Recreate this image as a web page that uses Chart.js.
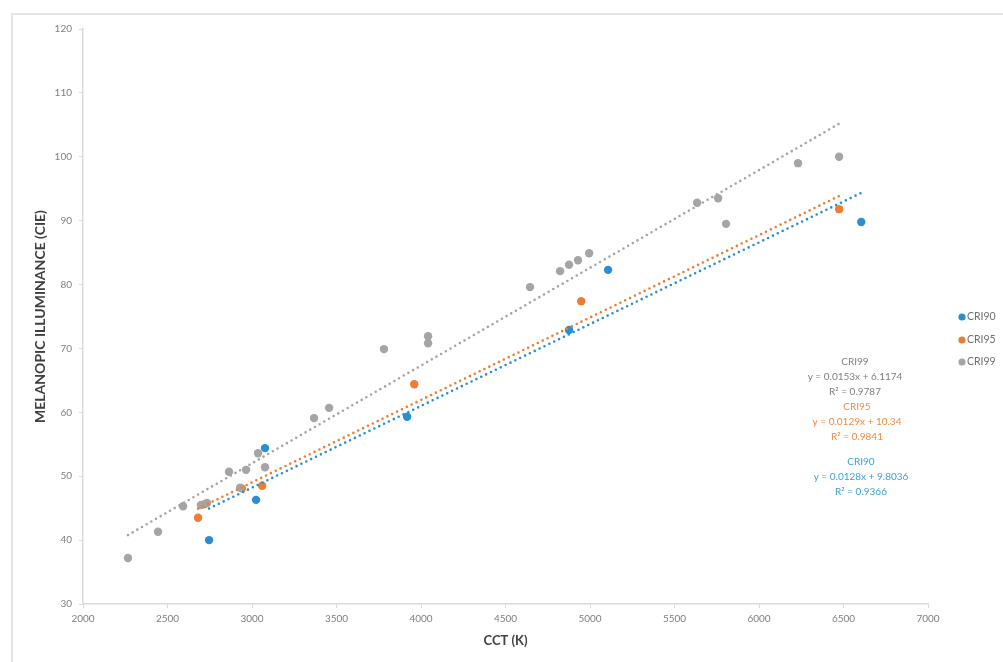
<!DOCTYPE html>
<html>
<head>
<meta charset="utf-8">
<script src="https://cdn.jsdelivr.net/npm/chart.js@4.4.1/dist/chart.umd.min.js"></script>
<style>
  html, body { margin: 0; padding: 0; background: #fff; }
  #wrap { width: 1003px; height: 662px; position: relative; }
</style>
</head>
<body>
<div id="wrap"><canvas id="myChart" width="1003" height="662"></canvas></div>
<script>
var seriesNames = ['CRI90', 'CRI95', 'CRI99'];
var pointColors = ['#2a8fd2', '#ed7d31', '#a5a5a5'];
var textColors = ['#3d9fd6', '#ef8a45', '#7f7f7f'];

// CCT (K) vs melanopic illuminance
var cri90X = [2746, 3024, 3077, 3918, 4876, 5107, 6605];
var cri90Y = [40.0, 46.3, 54.4, 59.3, 72.9, 82.3, 89.8];

var cri95X = [2681, 2716, 2940, 3060, 3960, 4948, 6474];
var cri95Y = [43.5, 45.6, 48.1, 48.5, 64.4, 77.4, 91.8];

var cri99X = [2266, 2444, 2592, 2698, 2734, 2864, 2930, 2965, 3036, 3077, 3367, 3456, 3781,
              4042, 4042, 4645, 4823, 4876, 4929, 4995, 5634, 5758, 5805, 6231, 6474];
var cri99Y = [37.2, 41.3, 45.3, 45.5, 45.8, 50.7, 48.2, 51.0, 53.6, 51.4, 59.1, 60.7, 69.9,
              71.9, 70.8, 79.6, 82.1, 83.1, 83.8, 84.9, 92.8, 93.5, 89.5, 99.0, 100.0];

// trendline equations as printed on the chart
var slopes = [0.0128, 0.0129, 0.0153];
var intercepts = [9.8036, 10.34, 6.1174];
var rSquared = ['0.9366', '0.9841', '0.9787'];

var xMin = 2000, xMax = 7000, xStep = 500;
var yMin = 30, yMax = 120, yStep = 10;

var allX = [cri90X, cri95X, cri99X];
var allY = [cri90Y, cri95Y, cri99Y];

function points(xs, ys) {
  return xs.map(function (x, i) { return { x: x, y: ys[i] }; });
}

function trend(i) {
  var lo = Math.min.apply(null, allX[i]);
  var hi = Math.max.apply(null, allX[i]);
  return [
    { x: lo, y: slopes[i] * lo + intercepts[i] },
    { x: hi, y: slopes[i] * hi + intercepts[i] }
  ];
}

var datasets = [];
// trendlines drawn on top
[2, 1, 0].forEach(function (i) {
  datasets.push({
    label: seriesNames[i] + ' trend',
    data: trend(i),
    showLine: true,
    borderColor: pointColors[i],
    borderWidth: 2.6,
    borderDash: [0, 5.4],
    borderCapStyle: 'round',
    pointRadius: 0,
    fill: false
  });
});
[2, 1, 0].forEach(function (i) {
  datasets.push({
    label: seriesNames[i],
    data: points(allX[i], allY[i]),
    backgroundColor: pointColors[i],
    borderWidth: 0,
    pointRadius: 4.2,
    pointHoverRadius: 4.2
  });
});

var frameAndNotes = {
  id: 'frameAndNotes',
  beforeDraw: function (chart) {
    var ctx = chart.ctx;
    ctx.save();
    ctx.fillStyle = '#fff';
    ctx.fillRect(0, 0, chart.width, chart.height);
    ctx.strokeStyle = '#e4e4e4';
    ctx.lineWidth = 2;
    ctx.strokeRect(12, 14, chart.width + 20, chart.height + 20);
    ctx.restore();
  },
  afterDraw: function (chart) {
    var ctx = chart.ctx;
    ctx.save();
    // legend
    var legendY = [317, 340, 362];
    ctx.font = '10.5px Lato';
    ctx.textBaseline = 'middle';
    ctx.textAlign = 'left';
    for (var i = 0; i < 3; i++) {
      ctx.fillStyle = pointColors[i];
      ctx.beginPath();
      ctx.arc(962, legendY[i], 3.6, 0, Math.PI * 2);
      ctx.fill();
      ctx.fillStyle = '#6f6f6f';
      ctx.fillText(seriesNames[i], 967, legendY[i]);
    }
    // equation labels
    var blocks = [
      { s: 0, x: 861, y: 462 },
      { s: 1, x: 857, y: 407 },
      { s: 2, x: 855, y: 362 }
    ];
    ctx.font = '10px Lato';
    ctx.textAlign = 'center';
    blocks.forEach(function (b) {
      ctx.fillStyle = textColors[b.s];
      ctx.fillText(seriesNames[b.s], b.x, b.y);
      ctx.fillText('y = ' + slopes[b.s] + 'x + ' + intercepts[b.s], b.x, b.y + 15);
      ctx.fillText('R\u00B2 = ' + rSquared[b.s], b.x, b.y + 30);
    });
    ctx.restore();
  }
};

function makeChart() {
  var ctx = document.getElementById('myChart').getContext('2d');
  return new Chart(ctx, {
    type: 'scatter',
    data: { datasets: datasets },
    options: {
      responsive: false,
      animation: false,
      events: [],
      layout: { padding: { top: 29, right: 75, left: 0, bottom: 0 } },
      plugins: { legend: { display: false }, tooltip: { enabled: false } },
      scales: {
        x: {
          type: 'linear',
          min: xMin, max: xMax,
          ticks: {
            stepSize: xStep,
            color: '#7f7f7f',
            font: { family: 'Lato', size: 10 },
            padding: 5,
            callback: function (v) { return String(v); }
          },
          grid: { display: true, drawOnChartArea: false, drawTicks: true, tickLength: 4, color: '#d9d9d9' },
          border: { display: true, color: '#d9d9d9', width: 1.5 },
          title: {
            display: true,
            text: 'CCT (K)',
            color: '#404040',
            font: { family: 'Lato', size: 13, weight: 'bold' },
            padding: { top: 0, bottom: 13 }
          },
          afterFit: function (s) { s.height = 58; }
        },
        y: {
          type: 'linear',
          min: yMin, max: yMax,
          ticks: {
            stepSize: yStep,
            color: '#7f7f7f',
            font: { family: 'Lato', size: 10 },
            padding: 7,
            callback: function (v) { return String(v); }
          },
          grid: { display: true, drawOnChartArea: false, drawTicks: true, tickLength: 4, color: '#d9d9d9' },
          border: { display: true, color: '#d9d9d9', width: 1.5 },
          title: {
            display: true,
            text: 'MELANOPIC ILLUMINANCE (CIE)',
            color: '#404040',
            font: { family: 'Lato', size: 14, weight: 'bold' },
            padding: { top: 31.6, bottom: 0 }
          },
          afterFit: function (s) { s.width = 83; }
        }
      }
    },
    plugins: [frameAndNotes]
  });
}

makeChart();
</script>
</body>
</html>
